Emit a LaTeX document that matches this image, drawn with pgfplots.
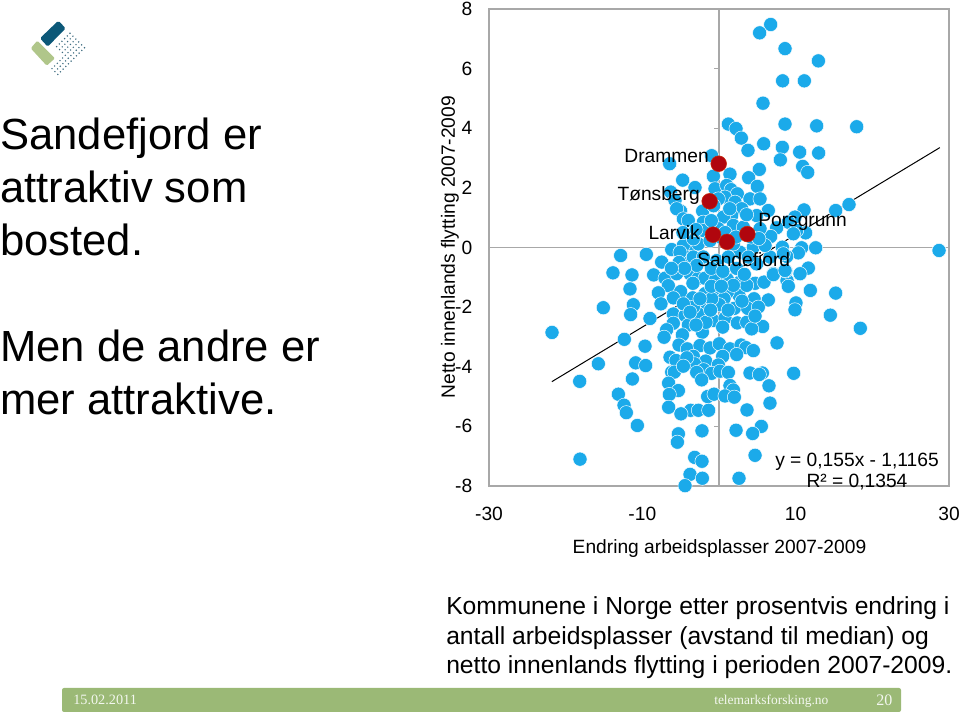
\documentclass[border=0pt]{standalone}
\usepackage{fontspec}
\setmainfont{Liberation Sans}
\newfontfamily\timesfont{Liberation Serif}
\usepackage{pgfplots}
\pgfplotsset{compat=1.18}
\definecolor{dotblue}{RGB}{27,170,234}
\definecolor{dotred}{RGB}{176,6,14}
\definecolor{axgray}{RGB}{168,168,168}
\definecolor{barGreen}{RGB}{155,185,118}
\definecolor{logoBlue}{RGB}{12,88,120}
\definecolor{logoGreen}{RGB}{176,198,138}
\definecolor{logoDot}{RGB}{62,108,128}
\newcommand{\fs}[1]{\fontsize{#1}{#1}\selectfont}
\begin{document}
\begin{tikzpicture}
\useasboundingbox (0,0) rectangle (720pt,537pt);
\begin{axis}[
  at={(366.75pt,172.5pt)},anchor=south west,
  scale only axis,width=345pt,height=357.75pt,
  xmin=-30,xmax=30,ymin=-8,ymax=8,
  xtick={-30,-10,10,30},ytick={-8,-6,-4,-2,0,2,4,6,8},
  major tick length=0pt,tick style={draw=none},
  /pgf/number format/assume math mode=true,
  tick label style={font=\fs{14.4}},
  yticklabel style={xshift=-9pt},
  xticklabel style={yshift=-12pt},
  axis line style={draw=axgray,line width=1pt},
  clip=false]
\addplot[axgray,line width=1pt,forget plot] coordinates {(0,-8) (0,8)};
\addplot[axgray,line width=1pt,forget plot] coordinates {(-30,0) (30,0)};
\pgfplotsinvokeforeach{-8,-6,-4,-2,2,4,6,8}{\draw[axgray,line width=0.8pt] (axis cs:0,#1) -- ++(-4pt,0pt);}
\pgfplotsinvokeforeach{-30,-10,10,30}{\draw[axgray,line width=0.8pt] (axis cs:#1,0) -- ++(0pt,-4pt);}
\addplot[only marks,mark=*,mark size=5.3pt,mark options={fill=dotblue,draw=white,line width=0.35pt}] table {
x y
6.74 7.48
5.30 7.20
8.61 6.67
12.96 6.26
8.30 5.59
11.13 5.59
5.74 4.84
1.22 4.14
2.22 3.99
8.61 4.14
12.74 4.08
17.96 4.05
2.91 3.67
5.83 3.48
8.26 3.36
3.78 3.26
10.52 3.20
13.00 3.17
-0.96 3.08
8.00 2.94
-6.43 2.81
10.91 2.72
11.57 2.52
5.26 2.62
1.43 2.46
-0.74 2.39
3.87 2.34
-4.74 2.26
5.00 2.05
-3.13 2.01
16.96 1.44
15.22 1.24
11.09 1.26
28.70 -0.10
-12.83 -0.27
-9.48 -0.23
9.91 1.02
9.04 0.85
11.30 0.49
10.13 0.57
7.52 0.66
12.61 -0.01
10.78 -0.01
10.35 -0.18
8.83 -0.30
11.65 -0.69
8.26 0.01
6.74 0.37
-13.83 -0.85
-11.35 -0.92
-11.61 -1.39
-11.17 -1.92
-15.09 -2.02
-11.52 -2.25
-9.00 -2.38
-21.78 -2.85
-12.35 -3.08
-9.65 -3.31
-10.87 -3.87
-9.57 -3.96
-15.74 -3.90
15.22 -1.53
11.91 -1.44
14.52 -2.27
18.43 -2.71
10.04 -1.86
9.91 -2.09
7.57 -3.20
-8.52 -0.92
10.57 -0.88
8.87 -1.11
9.04 -1.30
8.70 -0.79
7.09 -0.88
-6.30 1.86
-0.52 1.97
1.00 2.08
1.57 1.94
2.39 1.80
0.78 1.69
-0.09 1.63
2.09 1.52
4.04 1.63
5.35 1.63
-5.74 1.58
-5.00 1.22
-5.52 1.30
-4.65 0.96
-4.00 0.91
-2.13 1.22
2.96 1.30
1.65 1.07
0.57 1.02
6.43 1.24
4.91 1.07
-2.04 0.85
1.87 0.74
-0.09 0.63
3.17 0.68
5.35 0.63
9.70 0.46
-6.17 -0.07
4.48 0.01
-3.78 -0.01
-4.65 0.07
0.13 0.35
-2.04 0.57
-4.22 -0.32
-5.09 -0.16
2.74 -0.16
8.39 -0.21
6.65 -0.32
-2.70 0.12
-0.30 -0.44
4.91 -0.55
-1.17 0.23
1.87 0.12
6.00 0.07
-3.35 0.29
-3.35 -0.32
-2.04 -0.32
1.22 -0.32
3.83 -0.32
-7.48 -0.49
-7.04 -1.03
-5.52 -0.88
-3.78 -0.88
-6.61 -1.28
-7.91 -1.52
-5.00 -1.48
-5.96 -1.69
-7.57 -1.89
-3.43 -1.69
-2.70 -1.03
-1.83 -1.03
-0.43 -1.07
1.09 -1.07
2.74 -1.16
4.70 -1.20
5.87 -1.16
7.09 -0.91
8.61 -0.77
6.43 -1.76
4.57 -1.72
2.61 -1.61
1.09 -1.50
-0.22 -1.48
-1.83 -1.55
0.65 -1.72
-1.61 -1.89
0.04 -1.92
2.00 -2.04
3.74 -2.04
5.13 -2.00
-2.70 -2.23
-5.96 -2.23
-4.43 -2.28
-0.74 -2.45
0.78 -2.37
2.39 -2.53
3.61 -2.51
5.70 -2.65
4.26 -2.73
-4.00 -2.60
-5.96 -2.54
-6.83 -2.76
-4.78 -2.93
-7.17 -3.01
-2.17 -2.84
0.48 -2.67
-1.70 -2.51
-5.22 -3.27
-4.13 -3.40
-2.48 -3.29
-1.17 -3.37
0.04 -3.23
1.43 -3.40
2.87 -3.27
3.52 -3.36
4.48 -3.46
2.30 -3.59
0.48 -3.65
-6.39 -3.68
-5.61 -3.79
-3.35 -3.65
-1.74 -3.81
-0.09 -3.94
-3.35 -2.00
-4.65 -1.89
-0.96 -1.72
3.61 -1.27
1.87 -1.27
-2.48 -1.72
-3.78 -2.17
-3.00 0.60
-2.90 -0.60
-1.00 -0.70
0.50 -0.80
2.30 -0.70
3.30 -0.90
-5.20 -0.50
-4.50 -0.70
-6.20 -0.70
-1.00 0.90
0.80 0.50
2.20 0.35
4.20 0.35
5.20 0.30
-4.70 0.50
-1.10 -2.10
1.20 -2.10
-3.00 -2.60
-3.40 -1.20
-1.00 -1.30
0.30 -1.30
3.00 -1.80
4.70 -2.30
-3.20 -3.90
-4.20 -3.70
-2.00 -4.10
1.40 1.30
-0.70 1.40
3.60 1.10
-6.17 -4.18
-5.83 -4.18
-4.65 -3.98
-2.91 -4.19
-0.96 -4.22
0.13 -4.15
1.22 -4.19
4.04 -4.21
5.65 -4.21
5.26 -4.26
9.74 -4.22
-11.30 -4.41
-18.17 -4.49
-2.26 -4.44
-6.57 -4.55
6.52 -4.64
1.43 -4.63
1.87 -4.78
-5.30 -4.80
-13.13 -4.92
-6.48 -4.93
-1.48 -5.00
-0.65 -4.92
0.78 -4.98
2.00 -5.02
-12.39 -5.29
-12.09 -5.54
6.65 -5.22
-6.57 -5.36
-3.70 -5.46
-2.70 -5.46
-1.35 -5.46
3.65 -5.45
-4.96 -5.58
-10.65 -5.97
5.52 -6.00
-5.30 -6.25
-2.22 -6.15
2.22 -6.13
4.39 -6.24
-5.43 -6.53
4.70 -6.97
-3.17 -7.04
-2.22 -7.17
-18.13 -7.10
-3.78 -7.61
-2.17 -7.74
2.61 -7.74
-4.43 -7.99
};
\addplot[only marks,mark=*,mark size=5.9pt,mark options={fill=dotred,draw=dotred!70!orange,line width=0.4pt}] table {
x y
-0.04 2.81
-1.22 1.55
-0.78 0.43
1.04 0.19
3.70 0.45
};
\addplot[black,line width=0.75pt] coordinates {(-21.8,-4.5) (28.8,3.35)};
\end{axis}
\begin{scope}[x=0.75pt,y=-0.75pt,shift={(0pt,537pt)},every node/.style={inner sep=0pt,text=black}]
% logo
\fill[logoBlue,rounded corners=1.2pt] (58.3,20.7) -- (65.7,28.3) -- (47.7,46.7) -- (40,38.3) -- cycle;
\fill[logoGreen,rounded corners=1pt] (37.3,40.7) -- (55,58.3) -- (46.7,65.7) -- (30.7,48.3) -- cycle;
\foreach \i in {0,...,5}{\foreach \j in {0,...,10}{
  \pgfmathtruncatemacro{\keep}{(\j<6 || \i>2) ? 1 : 0}
  \ifnum\keep=1
    \fill[logoDot] ({70+2.9*\i-2.67*\j},{33.3+2.9*\i+2.67*\j}) circle (0.8);
  \fi}}
% left text
\node[anchor=base west] at (0,150) {\fs{32.7}Sandefjord er};
\node[anchor=base west] at (0,203) {\fs{32.7}attraktiv som};
\node[anchor=base west] at (0,256) {\fs{32.7}bosted.};
\node[anchor=base west] at (0,362) {\fs{32.7}Men de andre er};
\node[anchor=base west] at (0,415) {\fs{32.7}mer attraktive.};
% axis titles
\node[rotate=90] at (450,247) {\fs{14.4}Netto innenlands flytting 2007-2009};
\node[anchor=base] at (719.5,553.5) {\fs{14.4}Endring arbeidsplasser 2007-2009};
% city labels
\node[anchor=base east] at (709,163) {\fs{14.4}Drammen};
\node[anchor=base east] at (700,201) {\fs{14.4}Tønsberg};
\node[anchor=base east] at (700,240) {\fs{14.4}Larvik};
\node[anchor=base west] at (758,227) {\fs{14.4}Porsgrunn};
\node[anchor=base west] at (697,267) {\fs{14.4}Sandefjord};
% trend label
\node[anchor=base] at (857,466.5) {\fs{14.4}y = 0,155x - 1,1165};
\node[anchor=base] at (857,488) {\fs{14.4}R² = 0,1354};
% caption
\node[anchor=base west] at (446,615) {\fs{18.5}Kommunene i Norge etter prosentvis endring i};
\node[anchor=base west] at (446,645) {\fs{18.5}antall arbeidsplasser (avstand til median) og};
\node[anchor=base west] at (446,674) {\fs{18.5}netto innenlands flytting i perioden 2007-2009.};
% footer
\fill[barGreen,rounded corners=1.5pt] (62,688) rectangle (901,712);
\node[anchor=base west,text=white!88!barGreen] at (73,705) {\timesfont\fs{10.7}15.02.2011};
\node[anchor=base west,text=white!88!barGreen] at (714,705) {\timesfont\fs{10.1}telemarksforsking.no};
\node[anchor=base west,text=white!88!barGreen] at (876,706) {\timesfont\fs{12}20};
\end{scope}
\end{tikzpicture}
\end{document}
